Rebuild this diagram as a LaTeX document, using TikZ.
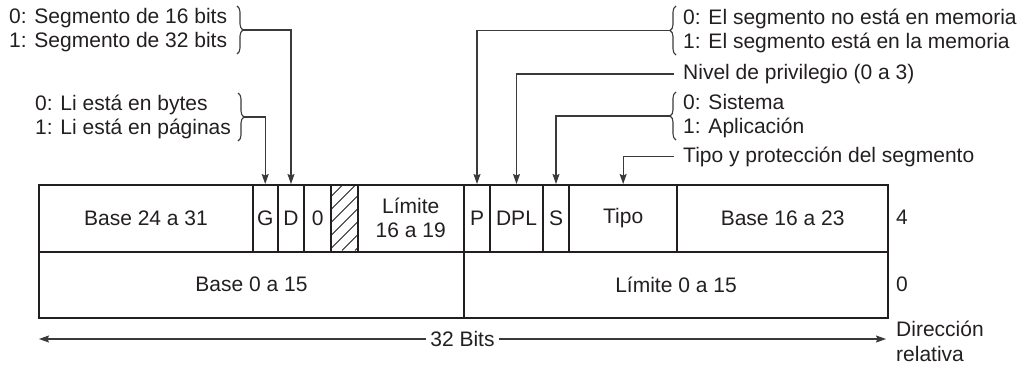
\documentclass[tikz,border=0pt]{standalone}
\usepackage{fontspec}
\setmainfont{Liberation Sans}
\usetikzlibrary{arrows.meta,decorations.pathreplacing}
\definecolor{ink}{HTML}{231F20}
\definecolor{wire}{HTML}{3A3A3A}
\begin{document}
\begin{tikzpicture}[x=1pt,y=-1pt,
  every node/.style={font=\fontsize{21pt}{24pt}\selectfont, text=ink},
  cell/.style={draw=ink, line width=2pt, inner sep=0pt, minimum height=66.5pt, anchor=north west, align=center},
  lbl/.style={inner sep=0pt, anchor=west, align=left},
  conn/.style={draw=wire, line width=1.2pt, -{Stealth[length=10pt,width=7pt,inset=1.5pt]}},
  plain/.style={draw=wire, line width=1.2pt},
  brc/.style={draw=wire, line width=1.1pt, decorate, decoration={brace, amplitude=6pt}},
  hatchline/.style={draw=ink, line width=0.8pt}]
\useasboundingbox (0,0) rectangle (1030,364);

% top row
\node[cell, minimum width=213.4pt] (b24) at (38.3,184) {Base 24 a 31};
\node[cell, minimum width=25pt] (G) at (251.7,184) {G};
\node[cell, minimum width=26.6pt] (D) at (276.7,184) {D};
\node[cell, minimum width=26.7pt] (Z) at (303.3,184) {0};
\node[cell, minimum width=26.7pt] (H) at (330,184) {};
\node[cell, minimum width=106pt] (L19) at (356.7,184) {Límite\\16 a 19};
\node[cell, minimum width=26.6pt] (P) at (462.7,184) {P};
\node[cell, minimum width=52.4pt] (DPL) at (489.3,184) {DPL};
\node[cell, minimum width=26.6pt] (S) at (541.7,184) {S};
\node[cell, minimum width=107.7pt] (T) at (568.3,184) {Tipo};
\node[cell, minimum width=211.3pt] (b16) at (676,184) {Base 16 a 23};
% bottom row
\node[cell, minimum width=424.4pt] (b0) at (38.3,250.5) {Base 0 a 15};
\node[cell, minimum width=424.6pt] (l0) at (462.7,250.5) {Límite 0 a 15};

% hatching
\begin{scope}
  \clip (H.south west) rectangle (H.north east);
  \foreach \k in {-66,-53,...,40} {
    \draw[hatchline] (330+\k,250.5) -- (330+\k+66.5,184);
  }
\end{scope}
\node[cell, minimum width=26.7pt] at (330,184) {};

% offsets
\node[lbl] (o4) at (896,217) {4};
\node[lbl] (o0) at (896,284) {0};
\node[lbl, font=\fontsize{21pt}{25pt}\selectfont] (dir) at (896,341) {Dirección\\relativa};

% 32 bits
\coordinate (aL) at (39,339);
\coordinate (aR) at (886,339);
\node[inner sep=4pt] (bits) at (462.5,339) {32 Bits};
\draw[conn] (bits.west) -- (aL);
\draw[conn] (bits.east) -- (aR);

% left annotations
\node[lbl, font=\fontsize{21pt}{24pt}\selectfont] (seg) at (9,30) {0: Segmento de 16 bits\\1: Segmento de 32 bits};
\draw[brc] (237,6) -- (237,54);
\coordinate (t1) at (243,30);
\draw[conn] (t1) -| (D.north);

\node[lbl, font=\fontsize{21pt}{24pt}\selectfont] (li) at (35,117) {0: Li está en bytes\\1: Li está en páginas};
\draw[brc] (238,93) -- (238,141);
\coordinate (t2) at (244,117);
\draw[conn] (t2) -| (G.north);

% right annotations
\node[lbl, font=\fontsize{21pt}{24pt}\selectfont] (pres) at (683,30.5) {0: El segmento no está en memoria\\1: El segmento está en la memoria};
\draw[brc] (676,55) -- (676,6);
\coordinate (t3) at (670,30.5);
\draw[conn] (t3) -| (P.north);

\node[lbl] (niv) at (683,74) {Nivel de privilegio (0 a 3)};
\draw[conn] ([xshift=-9pt]niv.west) -| (DPL.north);

\node[lbl, font=\fontsize{21pt}{24pt}\selectfont] (sis) at (683,116) {0: Sistema\\1: Aplicación};
\draw[brc] (676,140) -- (676,92);
\coordinate (t4) at (670,116);
\draw[conn] (t4) -| (S.north);

\node[lbl] (tip) at (683,156.5) {Tipo y protección del segmento};
\draw[conn] ([xshift=-9pt]tip.west) -| (T.north);
\end{tikzpicture}
\end{document}
